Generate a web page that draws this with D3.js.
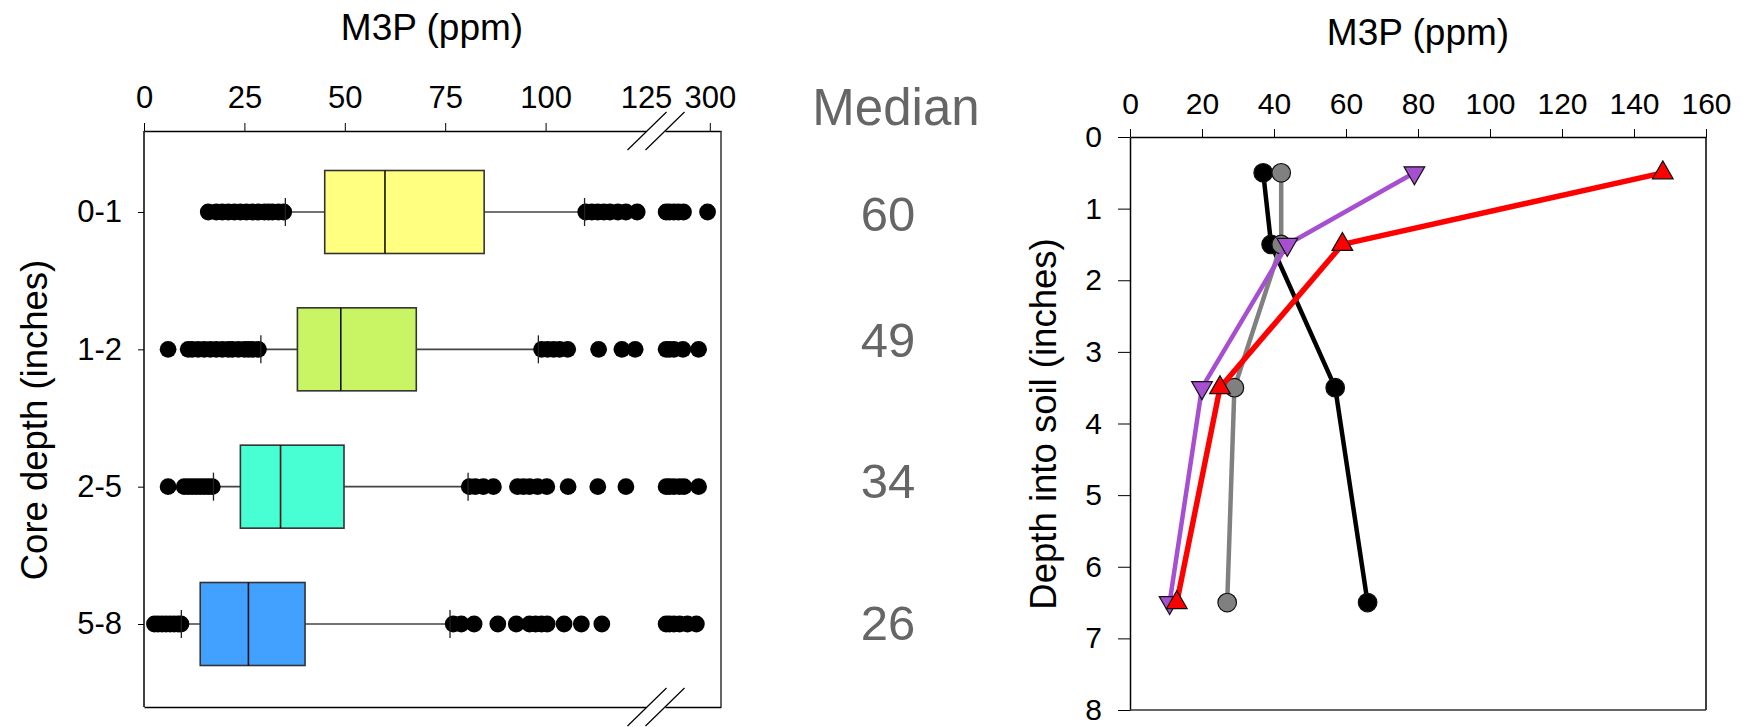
<!DOCTYPE html>
<html>
<head>
<meta charset="utf-8">
<script src="https://cdn.jsdelivr.net/npm/d3@7"></script>
<style>
  body { margin: 0; background: #fff; }
  text { font-family: "Liberation Sans", Arial, sans-serif; fill: #000; }
</style>
</head>
<body>
<script>
const width = 1741, height = 727;

// Left panel: box plots of M3P by core depth
const depths = ["0-1", "1-2", "2-5", "5-8"];
const boxColors = ["#ffff80", "#c9f564", "#48ffd4", "#42a0ff"];
const q1 = [45, 38.2, 24, 14];
const medians = [60, 49, 34, 26];
const q3 = [84.7, 67.8, 49.8, 40.1];
const whiskerLow = [35.2, 29.1, 17.3, 9.3];
const whiskerHigh = [109.7, 98.2, 80.7, 76.2];
// values above the break (125) are drawn on the 300 segment
const outliers01 = [16, 18, 19.5, 21, 22.5, 24, 25.5, 27, 28.5, 30, 31, 32, 33.5, 34.8,
  110, 111.5, 113, 114.5, 116, 118, 120, 122.8, 261, 264, 268, 272, 276.5, 298];
const outliers12 = [6, 11, 12, 13.5, 15, 16.5, 18, 19.5, 21, 22, 23.5, 25, 26, 27, 28.5,
  99, 100.5, 102, 103.5, 105.5, 113.2, 119, 122.3, 261, 264, 268, 276, 290];
const outliers25 = [6, 10, 11, 12, 13, 14, 15, 16, 17,
  81, 82.5, 84.5, 87, 93, 94.5, 96, 98, 100.3, 105.6, 113, 120, 261, 264, 268, 273, 277, 290];
const outliers58 = [2.6, 3.5, 4.5, 5.5, 6.5, 7.5, 8.5, 9.2,
  77, 79, 82.2, 88.1, 92.7, 96, 97.5, 99, 100.4, 104.6, 108.9, 114, 261, 264, 268, 273, 280, 288];
const outliers = [outliers01, outliers12, outliers25, outliers58];
const lowTicks = [0, 25, 50, 75, 100, 125];
const highTicks = [300];

// Right panel: M3P profiles by depth
const profileDepth = [0.5, 1.5, 3.5, 6.5];
const seriesBlack = [37, 39.2, 57, 66];
const seriesGray = [42, 42, 29, 27];
const seriesPurple = [79, 43.7, 20, 11];
const seriesRed = [148, 59, 25, 13];
const depthTicks = [0, 1, 2, 3, 4, 5, 6, 7, 8];

const svg = d3.select("body").append("svg")
  .attr("width", width)
  .attr("height", height);

// ---------- left panel ----------
const L = {left: 144, right: 721, top: 131, bottom: 707};
const xLow = d3.scaleLinear().domain([0, 125]).range([L.left, 646]);
const xHigh = d3.scaleLinear().domain([260, 310]).range([665, L.right]);
const xb = v => v <= 125 ? xLow(v) : xHigh(v);
const row = d3.scalePoint().domain(depths).range([212, 624]);
const boxHalf = 41.5;

// top axis, two segments
const topLow = svg.append("g").attr("transform", `translate(0,${L.top})`)
  .call(d3.axisTop(xLow).tickValues(lowTicks).tickSize(8).tickSizeOuter(0).tickPadding(15));
topLow.selectAll(".tick").filter(d => d === 125).select("line").remove();
svg.append("g").attr("transform", `translate(0,${L.top})`)
  .call(d3.axisTop(xHigh).tickValues(highTicks).tickSize(8).tickSizeOuter(0).tickPadding(15));
// bottom frame, two segments
svg.append("g").attr("transform", `translate(0,${L.bottom})`)
  .call(d3.axisBottom(xLow).tickValues([]).tickSizeOuter(0));
svg.append("g").attr("transform", `translate(0,${L.bottom})`)
  .call(d3.axisBottom(xHigh).tickValues([]).tickSizeOuter(0));
// left axis (categories)
const leftAx = svg.append("g").attr("transform", `translate(${L.left},0)`)
  .call(d3.axisLeft(row).tickSize(6).tickPadding(16));
leftAx.select(".domain").remove();
// frame sides
svg.append("line").attr("x1", L.left).attr("x2", L.left).attr("y1", L.top).attr("y2", L.bottom)
  .attr("stroke", "#000").attr("stroke-width", 1.5);
svg.append("line").attr("x1", L.right).attr("x2", L.right).attr("y1", L.top).attr("y2", L.bottom)
  .attr("stroke", "#333").attr("stroke-width", 1.5);

// break marks
[L.top, L.bottom].forEach(y => {
  [xLow(125) + 1, xHigh(260)].forEach(x => {
    svg.append("line")
      .attr("x1", x - 19.5).attr("y1", y + 19)
      .attr("x2", x + 19.5).attr("y2", y - 19)
      .attr("stroke", "#000").attr("stroke-width", 1.2);
  });
});

svg.selectAll("g.tick text").attr("font-size", 31)
  .attr("font-family", "'Liberation Sans', Arial, sans-serif");
svg.selectAll(".domain").attr("stroke-width", 1.5);

// box plots
const boxes = svg.append("g");
depths.forEach((d, i) => {
  const cy = row(d);
  const g = boxes.append("g");
  g.append("line")
    .attr("x1", xb(whiskerLow[i])).attr("x2", xb(whiskerHigh[i]))
    .attr("y1", cy).attr("y2", cy)
    .attr("stroke", "#444").attr("stroke-width", 1.6);
  g.selectAll("circle.out").data(outliers[i]).enter()
    .append("circle")
    .attr("class", "out")
    .attr("cx", v => xb(v))
    .attr("cy", cy)
    .attr("r", 8.4)
    .attr("fill", "#000");
  [whiskerLow[i], whiskerHigh[i]].forEach(v => {
    g.append("line")
      .attr("x1", xb(v)).attr("x2", xb(v))
      .attr("y1", cy - 14).attr("y2", cy + 14)
      .attr("stroke", "#222").attr("stroke-width", 1.3);
  });
  g.append("rect")
    .attr("x", xb(q1[i])).attr("y", cy - boxHalf)
    .attr("width", xb(q3[i]) - xb(q1[i])).attr("height", boxHalf * 2)
    .attr("fill", boxColors[i]).attr("stroke", "#333").attr("stroke-width", 1.6);
  g.append("line")
    .attr("x1", xb(medians[i])).attr("x2", xb(medians[i]))
    .attr("y1", cy - boxHalf).attr("y2", cy + boxHalf)
    .attr("stroke", "#111").attr("stroke-width", 1.6);
});

svg.append("text")
  .attr("x", 432).attr("y", 40)
  .attr("text-anchor", "middle").attr("font-size", 37)
  .text("M3P (ppm)");
svg.append("text")
  .attr("transform", "translate(47,420) rotate(-90)")
  .attr("text-anchor", "middle").attr("font-size", 36.5)
  .text("Core depth (inches)");

// median column
const medOffset = [1, -10, -6, -2];
svg.append("text")
  .attr("x", 896).attr("y", 125)
  .attr("text-anchor", "middle")
  .attr("font-family", "Lato, 'Open Sans', sans-serif")
  .attr("font-size", 51).style("fill", "#666")
  .text("Median");
svg.append("g").selectAll("text").data(medians).enter()
  .append("text")
  .attr("x", 888)
  .attr("y", (m, i) => row(depths[i]) + medOffset[i])
  .attr("dy", "0.36em")
  .attr("text-anchor", "middle")
  .attr("font-family", "Lato, 'Open Sans', sans-serif")
  .attr("font-size", 49).style("fill", "#666")
  .text(m => m);

// ---------- right panel ----------
const R = {left: 1130, right: 1706, top: 137, bottom: 710};
const x = d3.scaleLinear().domain([0, 160]).range([R.left, R.right]);
const y = d3.scaleLinear().domain([0, 8]).range([R.top, R.bottom]);

const rt = svg.append("g").attr("transform", `translate(0,${R.top})`)
  .call(d3.axisTop(x).ticks(8).tickSize(8).tickSizeOuter(0).tickPadding(15));
const rl = svg.append("g").attr("transform", `translate(${R.left},0)`)
  .call(d3.axisLeft(y).tickValues(depthTicks).tickSize(12).tickSizeOuter(0).tickPadding(16));
[rt, rl].forEach(a => {
  a.selectAll("text").attr("font-size", 30).attr("font-family", "'Liberation Sans', Arial, sans-serif");
  a.select(".domain").attr("stroke-width", 1.5);
});
svg.append("line").attr("x1", R.right).attr("x2", R.right).attr("y1", R.top).attr("y2", R.bottom)
  .attr("stroke", "#000").attr("stroke-width", 1.5);
svg.append("line").attr("x1", R.left).attr("x2", R.right).attr("y1", R.bottom).attr("y2", R.bottom)
  .attr("stroke", "#333").attr("stroke-width", 1.5);

const series = [
  {values: seriesBlack, color: "#000", fill: "#000", marker: "circle", w: 4.5},
  {values: seriesGray, color: "#808080", fill: "#808080", marker: "circle", w: 4.5},
  {values: seriesPurple, color: "#a64fd0", fill: "#a64fd0", marker: "down", w: 4.5},
  {values: seriesRed, color: "#ff0000", fill: "#ff0000", marker: "up", w: 5.5}
];
const line = d3.line().x(d => x(d[0])).y(d => y(d[1]));
const tri = d3.symbol().type(d3.symbolTriangle).size(185);

series.forEach(s => {
  const pts = s.values.map((v, i) => [v, profileDepth[i]]);
  const g = svg.append("g");
  g.append("path").attr("d", line(pts))
    .attr("fill", "none").attr("stroke", s.color).attr("stroke-width", s.w)
    .attr("stroke-linejoin", "round");
  pts.forEach(p => {
    if (s.marker === "circle") {
      g.append("circle").attr("cx", x(p[0])).attr("cy", y(p[1])).attr("r", 9.3)
        .attr("fill", s.fill).attr("stroke", "#111").attr("stroke-width", 1.2);
    } else {
      const rot = s.marker === "down" ? 180 : 0;
      g.append("path").attr("d", tri())
        .attr("transform", `translate(${x(p[0])},${y(p[1])}) rotate(${rot})`)
        .attr("fill", s.fill).attr("stroke", "#111").attr("stroke-width", 1.2);
    }
  });
});

svg.append("text")
  .attr("x", 1418).attr("y", 45)
  .attr("text-anchor", "middle").attr("font-size", 37)
  .text("M3P (ppm)");
svg.append("text")
  .attr("transform", "translate(1056,424) rotate(-90)")
  .attr("text-anchor", "middle").attr("font-size", 36.5)
  .text("Depth into soil (inches)");
</script>
</body>
</html>
